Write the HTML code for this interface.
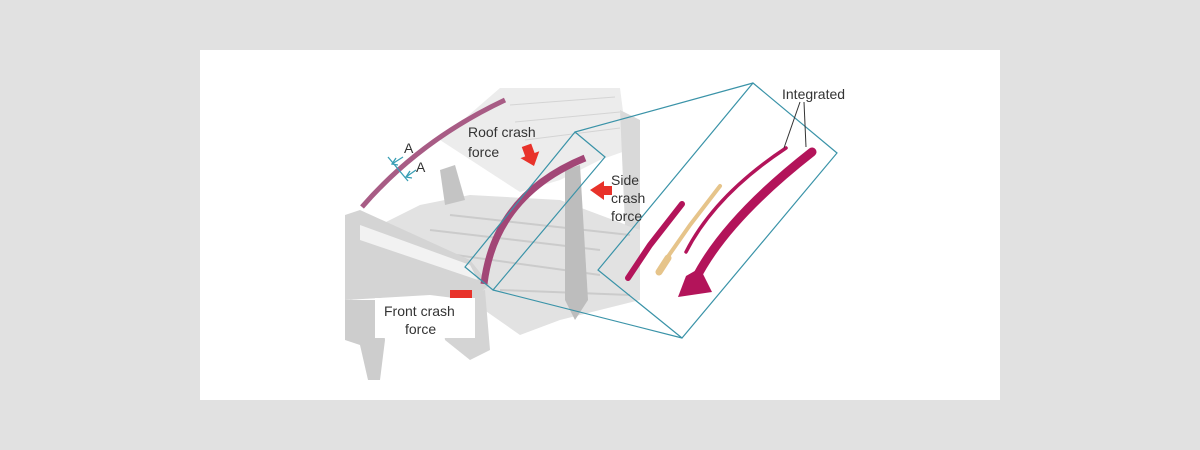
<!DOCTYPE html>
<html><head><meta charset="utf-8"><style>
html,body{margin:0;padding:0;background:#e1e1e1;}
body{width:1200px;height:450px;position:relative;overflow:hidden;font-family:"Liberation Sans",sans-serif;}
.panel{position:absolute;left:200px;top:50px;width:800px;height:350px;background:#fff;}
svg{position:absolute;left:0;top:0;}
</style></head><body>
<div class="panel"></div>
<svg width="1200" height="450" viewBox="0 0 1200 450">
<g>
<polygon points="500,88 620,88 628,150 600,160 560,180 520,192 440,140" fill="#ececec"/>
<g stroke="#d4d4d4" stroke-width="1"><line x1="510" y1="105" x2="615" y2="97"/><line x1="515" y1="122" x2="620" y2="112"/><line x1="525" y1="140" x2="620" y2="128"/></g>
<polygon points="350,240 420,205 470,195 560,200 640,230 640,300 560,320 520,335 470,300 430,290 350,300" fill="#e2e2e2"/>
<g stroke="#cbcbcb" stroke-width="2"><line x1="430" y1="230" x2="600" y2="250"/><line x1="420" y1="250" x2="600" y2="275"/><line x1="450" y1="215" x2="630" y2="235"/><line x1="500" y1="290" x2="630" y2="295"/></g>
<polygon points="345,215 360,210 470,260 490,285 470,300 430,295 345,300" fill="#d4d4d4"/>
<polygon points="360,225 470,265 478,280 360,240" fill="#f2f2f2"/>
<polygon points="345,300 380,300 385,340 380,380 368,380 360,345 345,340" fill="#cdcdcd"/>
<polygon points="440,300 485,290 490,350 470,360 445,340" fill="#d4d4d4"/>
<polygon points="565,170 580,165 588,300 575,320 565,300" fill="#bdbdbd"/>
<polygon points="440,170 455,165 465,200 445,205" fill="#c4c4c4"/>
<polygon points="620,110 640,120 640,230 625,225" fill="#d9d9d9"/>
<path d="M362,207 Q420,140 505,100" stroke="#a85c85" stroke-width="5" fill="none"/>
<path d="M484,284 Q495,195 585,158" stroke="#a24676" stroke-width="7" fill="none"/>
<!-- red arrows -->
<g transform="translate(534,166) rotate(-110)"><polygon points="0,0 12,-10 12,-5 22,-5 22,5 12,5 12,10" fill="#e8322a"/></g>
<polygon points="590,190 604,181 604,186 612,186 612,195 604,195 604,200" fill="#e8322a"/>
<rect x="450" y="290" width="22" height="10" fill="#e8322a"/>
</g>
<rect x="375" y="298" width="100" height="40" fill="#fff"/>
<g stroke="#3a9fb5" stroke-width="1.3" fill="none">
<line x1="388" y1="157" x2="408" y2="181"/>
<line x1="392" y1="164" x2="403" y2="157"/><polyline points="396,158 392,164 398,165"/>
<line x1="406" y1="177" x2="416" y2="170"/><polyline points="410,171 406,177 412,178"/>
</g>
<g stroke="#3a93a8" stroke-width="1.2" fill="none">
<polygon points="575,132 605,157 493,290 465,267"/>
<polygon points="753,83 837,153 682,338 598,270"/>
<line x1="575" y1="132" x2="753" y2="83"/>
<line x1="493" y1="290" x2="682" y2="338"/>
</g>
<g fill="none" stroke-linecap="round">
<path d="M628,278 L650,245 L682,204" stroke="#b3145a" stroke-width="6"/>
<path d="M660,268 L690,225 L720,186" stroke="#e6c48a" stroke-width="4"/>
<path d="M659,272 L668,258" stroke="#e6c48a" stroke-width="7"/>
<path d="M686,252 Q715,195 786,148" stroke="#b3145a" stroke-width="3.5"/>
<path d="M695,280 Q725,220 812,152" stroke="#b3145a" stroke-width="9"/>
</g>
<polygon points="678,297 686,276 700,268 712,292" fill="#b3145a"/>
<g stroke="#333" stroke-width="1"><line x1="800" y1="102" x2="784" y2="148"/><line x1="804" y1="102" x2="806" y2="147"/></g>
<g font-family="Liberation Sans, sans-serif" font-size="14" fill="#333">
<text x="468" y="137">Roof crash</text>
<text x="468" y="157">force</text>
<text x="404" y="153">A</text>
<text x="416" y="172">A</text>
<text x="611" y="185">Side</text>
<text x="611" y="203">crash</text>
<text x="611" y="221">force</text>
<text x="384" y="316">Front crash</text>
<text x="405" y="334">force</text>
<text x="782" y="99">Integrated</text>
</g>
</svg>
</body></html>
